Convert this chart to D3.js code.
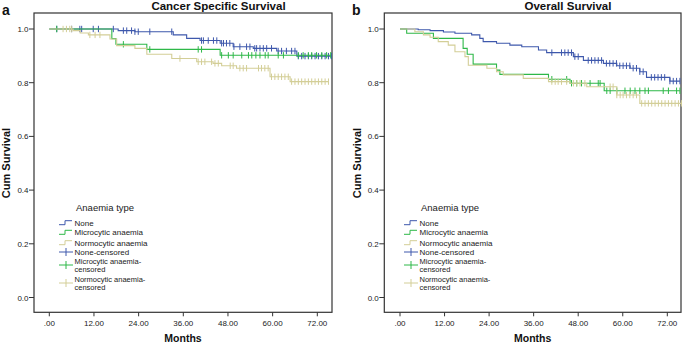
<!DOCTYPE html>
<html><head><meta charset="utf-8">
<script src="https://cdn.jsdelivr.net/npm/d3@7"></script>
<style>body{margin:0;background:#fff}svg{display:block;font-family:"Liberation Sans",Arial,sans-serif}</style>
</head><body><svg id="c" width="685" height="345"></svg>
<script>
// ---- data ----
const groups = ["None", "Microcytic anaemia", "Normocytic anaemia"];
const colors = ["#3E58AC", "#2EB848", "#D3CE97"];
const xTicks = [0, 12, 24, 36, 48, 60, 72];
const xTickLabels = [".00", "12.00", "24.00", "36.00", "48.00", "60.00", "72.00"];
const yTicks = [0, 0.2, 0.4, 0.6, 0.8, 1.0];
const yTickLabels = ["0.0", "0.2", "0.4", "0.6", "0.8", "1.0"];
const legendLabels = [["None"], ["Microcytic anaemia"], ["Normocytic anaemia"], ["None-censored"], ["Microcytic anaemia-", "censored"], ["Normocytic anaemia-", "censored"]];

// Panel a: Cancer Specific Survival
const cssNoneT = [0, 18.5, 23, 33.3, 36.9, 40.5, 45.9, 49.4, 54.8, 61.1, 66.5];
const cssNoneS = [1.0, 0.994, 0.99, 0.978, 0.965, 0.957, 0.947, 0.934, 0.928, 0.918, 0.899];
const cssNoneCens = [2.0, 6.0, 8.2, 8.7, 11.8, 13.2, 17.2, 19.9, 20.8, 22.1, 23.0, 23.9, 27.0, 32.9, 40.9, 41.4, 42.7, 44.1, 45.0, 46.3, 46.8, 47.6, 48.5, 49.6, 51.2, 53.0, 53.9, 55.2, 55.7, 56.6, 57.5, 58.4, 59.7, 61.5, 62.4, 63.7, 65.1, 66.0, 66.9, 67.8, 68.7, 69.6, 70.5, 71.4, 72.3, 73.2, 74.1, 75.0, 75.8];
const cssMicroT = [0, 16.8, 17.9, 26.2, 45.9];
const cssMicroS = [1.0, 0.964, 0.943, 0.924, 0.902];
const cssMicroCens = [2.0, 19.9, 27.0, 40.0, 40.9, 46.3, 48.1, 49.4, 51.7, 53.5, 54.4, 55.5, 56.6, 58.0, 58.8, 61.5, 62.9, 66.9, 68.2, 69.6, 70.5, 71.8, 73.2, 74.5, 75.6];
const cssNormoT = [0, 6.4, 8.3, 10.5, 16.3, 18.1, 23, 26.2, 32.9, 39.6, 44, 46.3, 50.3, 59.3, 64.7];
const cssNormoS = [1.0, 0.994, 0.985, 0.978, 0.963, 0.938, 0.928, 0.906, 0.89, 0.878, 0.872, 0.863, 0.854, 0.822, 0.804];
const cssNormoCens = [3.7, 4.6, 5.5, 6.0, 10.9, 12.3, 13.6, 35.1, 40.0, 40.9, 41.8, 43.6, 44.5, 45.4, 48.6, 49.4, 51.2, 52.1, 53.0, 56.2, 57.0, 57.9, 58.8, 59.7, 60.6, 61.5, 62.4, 63.3, 64.2, 65.1, 66.0, 66.9, 67.8, 68.7, 69.6, 70.5, 71.4, 72.3, 73.2, 74.1, 75.0];

// Panel b: Overall Survival
const osNoneT = [0, 4.9, 8.1, 11.7, 14.8, 19.3, 21.5, 22.4, 26, 29.6, 32.8, 37.3, 39.5, 46.7, 49.4, 54.8, 58.4, 62, 64.6, 66.4, 72.7];
const osNoneS = [1.0, 0.997, 0.994, 0.989, 0.984, 0.978, 0.965, 0.953, 0.947, 0.94, 0.934, 0.922, 0.912, 0.897, 0.883, 0.872, 0.863, 0.854, 0.841, 0.82, 0.806];
const osNoneCens = [40.9, 43.5, 44.4, 45.3, 46.2, 47.1, 48.0, 50.7, 51.6, 52.5, 53.4, 54.3, 55.6, 56.5, 57.4, 58.3, 59.2, 60.1, 61.0, 61.9, 62.8, 63.7, 64.6, 65.5, 67.7, 68.6, 69.5, 70.4, 71.3, 72.7, 73.6, 74.5, 75.4];
const osMicroT = [0, 1.8, 9, 17, 18.1, 19.7, 26, 26.9, 40, 45.8, 55];
const osMicroS = [1.0, 0.984, 0.965, 0.928, 0.906, 0.869, 0.847, 0.831, 0.813, 0.798, 0.770];
const osMicroCens = [40.9, 44.9, 46.2, 47.6, 48.9, 51.2, 53.4, 53.9, 55.7, 56.6, 58.4, 60.6, 62.0, 63.3, 64.6, 66.0, 66.9, 70.9, 72.3, 74.5, 75.4];
const osNormoT = [0, 4, 6.3, 8.1, 10.3, 13, 14.8, 17.5, 18.4, 23.4, 26, 27.8, 33.2, 40.0, 45.8, 50.3, 58.4, 64.6];
const osNormoS = [1.0, 0.99, 0.978, 0.969, 0.953, 0.94, 0.915, 0.897, 0.865, 0.854, 0.841, 0.829, 0.816, 0.804, 0.798, 0.785, 0.754, 0.723];
const osNormoCens = [40.9, 41.8, 42.6, 43.5, 44.9, 46.7, 47.6, 48.5, 49.8, 56.6, 57.4, 58.4, 59.3, 60.1, 61.0, 61.9, 62.8, 63.7, 65.1, 66.0, 66.9, 67.8, 68.7, 69.6, 70.5, 71.4, 72.3, 73.2, 74.1, 75.0, 75.8];

const panels = [
  {letter: "a", title: "Cancer Specific Survival", left: 34, right: 332, x0: 49.3, x72: 317.3, titleX: 218.5, legX: 59, ylabX: 6,
   series: [[cssNoneT, cssNoneS, cssNoneCens], [cssMicroT, cssMicroS, cssMicroCens], [cssNormoT, cssNormoS, cssNormoCens]]},
  {letter: "b", title: "Overall Survival", left: 384.3, right: 681, x0: 400, x72: 667.3, titleX: 568, legX: 404, ylabX: 356.5,
   series: [[osNoneT, osNoneS, osNoneCens], [osMicroT, osMicroS, osMicroCens], [osNormoT, osNormoS, osNormoCens]]}
];

const svg = d3.select("#c");
const frameTop = 13, frameBottom = 312.3;
const y = d3.scaleLinear().domain([0, 1]).range([297.5, 29]);

panels.forEach(p => {
  const x = d3.scaleLinear().domain([0, 72]).range([p.x0, p.x72]);
  const g = svg.append("g");
  // frame
  g.append("rect").attr("x", p.left).attr("y", frameTop).attr("width", p.right - p.left).attr("height", frameBottom - frameTop)
    .attr("fill", "none").attr("stroke", "#333").attr("stroke-width", 1.2);
  // y axis ticks
  yTicks.forEach((v, i) => {
    g.append("line").attr("x1", p.left - 5).attr("x2", p.left).attr("y1", y(v)).attr("y2", y(v)).attr("stroke", "#333");
    g.append("text").attr("x", p.left - 5.5).attr("y", y(v) + 3).attr("text-anchor", "end").attr("font-size", 8).attr("fill", "#222").text(yTickLabels[i]);
  });
  // x axis ticks
  xTicks.forEach((v, i) => {
    g.append("line").attr("x1", x(v)).attr("x2", x(v)).attr("y1", frameBottom).attr("y2", frameBottom + 4).attr("stroke", "#333");
    g.append("text").attr("x", x(v)).attr("y", frameBottom + 14).attr("text-anchor", "middle").attr("font-size", 8).attr("fill", "#222").text(xTickLabels[i]);
  });
  // labels
  g.append("text").attr("x", p.titleX).attr("y", 10).attr("text-anchor", "middle").attr("font-size", 11.5).attr("font-weight", "bold").attr("fill", "#111").text(p.title);
  g.append("text").attr("x", p.letter === "a" ? 2 : 352).attr("y", 15).attr("font-size", 14).attr("font-weight", "bold").attr("fill", "#111").text(p.letter);
  g.append("text").attr("x", (p.left + p.right) / 2).attr("y", 342).attr("text-anchor", "middle").attr("font-size", 10.5).attr("font-weight", "bold").attr("fill", "#111").text("Months");
  g.append("text").attr("transform", `translate(${p.ylabX + 4},163) rotate(-90)`).attr("text-anchor", "middle").attr("font-size", 11).attr("font-weight", "bold").attr("fill", "#111").text("Cum Survival");

  // curves
  p.series.forEach((s, k) => {
    const [T, S, C] = s;
    const end = Math.max(T[T.length - 1], C[C.length - 1]);
    const pts = T.map((t, i) => [t, S[i]]).concat([[end, S[S.length - 1]]]);
    const line = d3.line().x(d => x(d[0])).y(d => y(d[1])).curve(d3.curveStepAfter);
    g.append("path").attr("d", line(pts)).attr("fill", "none").attr("stroke", colors[k]).attr("stroke-width", 1.1);
    const surv = t => { let v = S[0]; T.forEach((tt, i) => { if (tt <= t) v = S[i]; }); return v; };
    C.forEach(t => {
      const cx = x(t), cy = y(surv(t));
      g.append("line").attr("x1", cx).attr("x2", cx).attr("y1", cy - 3.2).attr("y2", cy + 3.2).attr("stroke", colors[k]).attr("stroke-width", 1);
    });
  });

  // legend
  const lx = p.legX;
  g.append("text").attr("x", lx + 17).attr("y", 211).attr("font-size", 9.5).attr("fill", "#222").text("Anaemia type");
  const rowY = [222.7, 232.3, 242.7, 252, 265, 283];
  legendLabels.forEach((lab, i) => {
    const cy = rowY[i];
    const col = colors[i % 3];
    if (i < 3) {
      g.append("path").attr("d", `M${lx},${cy + 2}H${lx + 6}V${cy - 2}H${lx + 13}`).attr("fill", "none").attr("stroke", col).attr("stroke-width", 1);
    } else {
      g.append("line").attr("x1", lx).attr("x2", lx + 14).attr("y1", cy).attr("y2", cy).attr("stroke", col).attr("stroke-width", 1);
      g.append("line").attr("x1", lx + 7).attr("x2", lx + 7).attr("y1", cy - 4).attr("y2", cy + 4).attr("stroke", col).attr("stroke-width", 1);
    }
    const fs = lab.length === 1 ? 8 : 7.5;
    const ty = lab.length === 1 ? cy + 3 : cy - 1.2;
    lab.forEach((l, j) => {
      g.append("text").attr("x", lx + 15.5).attr("y", ty + j * 8).attr("font-size", fs).attr("fill", "#222").text(l);
    });
  });
});
</script></body></html>
